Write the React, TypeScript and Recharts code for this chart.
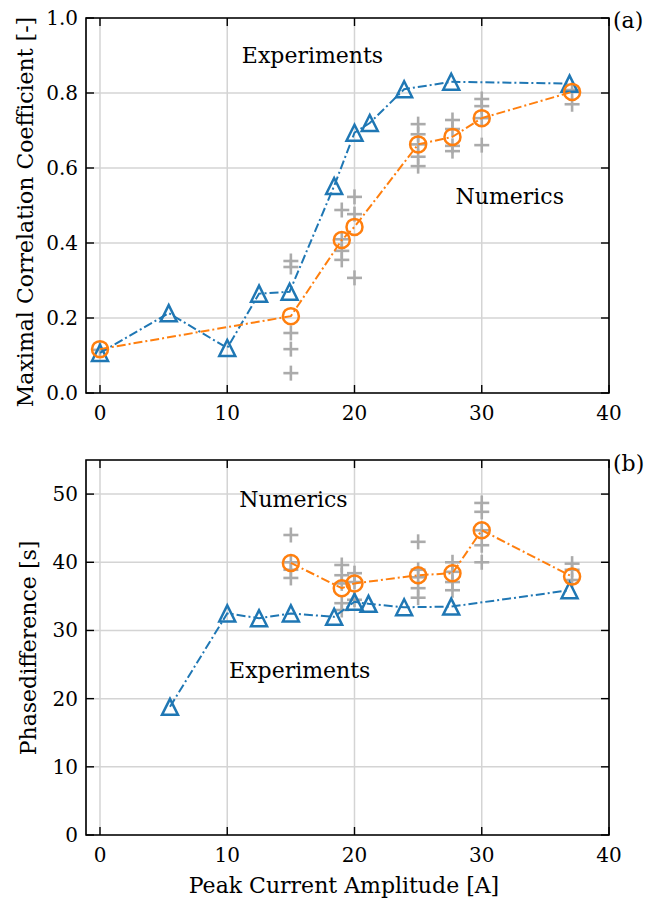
import { CartesianGrid, ReferenceArea, ReferenceDot, Scatter, ScatterChart, XAxis, YAxis } from "recharts";

// Peak current amplitude ticks [A]
const currentTicks = [0, 10, 20, 30, 40];

// (a) maximal correlation coefficient
const corrTicks = [0, 0.2, 0.4, 0.6, 0.8, 1.0];
const corrExpCurrent = [0, 5.4, 10, 12.5, 14.9, 18.4, 20, 21.2, 23.9, 27.6, 36.9];
const corrExpValue = [0.107, 0.213, 0.12, 0.265, 0.27, 0.552, 0.694, 0.72, 0.81, 0.83, 0.825];
const corrNumCurrent = [0, 15, 19, 20, 25, 27.7, 30, 37.1];
const corrNumValue = [0.117, 0.205, 0.408, 0.443, 0.663, 0.683, 0.733, 0.803];
const corrRunCurrent = [0, 15, 15, 15, 15, 15, 19, 19, 19, 19, 20, 20, 20, 25, 25, 25, 25, 25, 27.7, 27.7, 27.7, 27.7, 30, 30, 30, 30, 37.1, 37.1];
const corrRunValue = [0.115, 0.352, 0.336, 0.16, 0.117, 0.053, 0.488, 0.41, 0.379, 0.355, 0.523, 0.477, 0.307, 0.717, 0.69, 0.663, 0.63, 0.605, 0.728, 0.704, 0.659, 0.645, 0.784, 0.765, 0.733, 0.661, 0.808, 0.77];

// (b) phase difference [s]
const phaseTicks = [0, 10, 20, 30, 40, 50];
const phaseExpCurrent = [5.5, 10, 12.5, 15, 18.4, 20, 21.1, 23.9, 27.6, 36.9];
const phaseExpValue = [18.8, 32.5, 31.8, 32.5, 32.0, 34.2, 33.9, 33.4, 33.5, 35.9];
const phaseNumCurrent = [15, 19, 20, 25, 27.7, 30, 37.1];
const phaseNumValue = [39.9, 36.2, 36.9, 38.1, 38.4, 44.7, 37.9];
const phaseRunCurrent = [15, 15, 15, 15, 19, 19, 19, 19, 19, 20, 20, 20, 25, 25, 25, 25, 25, 27.7, 27.7, 27.7, 27.7, 30, 30, 30, 30, 30, 37.1, 37.1, 37.1];
const phaseRunValue = [44.0, 40.0, 38.9, 37.7, 39.6, 38.1, 36.9, 34.0, 33.0, 38.4, 37.1, 34.5, 43.0, 38.9, 37.8, 36.2, 34.8, 40.0, 38.6, 37.1, 35.9, 48.7, 47.4, 44.7, 42.5, 40.0, 39.8, 38.9, 37.4];

const BLUE = "#1f77b4";
const ORANGE = "#ff7f0e";
const GREY = "#ababab";
const FONT = '"DejaVu Serif", serif';
const DASH_DOT = "9 3 2 3";

const zip = (xs: number[], ys: number[]) => xs.map((x, i) => ({ x, y: ys[i] }));

const Triangle = (p: any) => {
  const { cx, cy } = p;
  if (cx == null || cy == null) return <g />;
  const s = 8;
  return (
    <path
      d={`M${cx},${cy - s}L${cx - s},${cy + s}L${cx + s},${cy + s}Z`}
      fill="none"
      stroke={BLUE}
      strokeWidth={2.5}
    />
  );
};

const Ring = (p: any) => {
  const { cx, cy } = p;
  if (cx == null || cy == null) return <g />;
  return <circle cx={cx} cy={cy} r={8} fill="none" stroke={ORANGE} strokeWidth={2.5} />;
};

const Plus = (p: any) => {
  const { cx, cy } = p;
  if (cx == null || cy == null) return <g />;
  const s = 7.5;
  return (
    <g stroke={GREY} strokeWidth={2.6}>
      <line x1={cx - s} x2={cx + s} y1={cy} y2={cy} />
      <line x1={cx} x2={cx} y1={cy - s} y2={cy + s} />
    </g>
  );
};

interface Note {
  text: string;
  x: number;
  y: number;
}

interface PanelProps {
  height: number;
  marginTop: number;
  xAxisHeight: number;
  yDomain: [number, number];
  yTicks: number[];
  yFormat: (v: number) => string;
  yTitle: string;
  yTitleX: number;
  yTitleY: number;
  tag: string;
  tagY: number;
  xTitle?: string;
  exp: { x: number; y: number }[];
  num: { x: number; y: number }[];
  runs: { x: number; y: number }[];
  notes: Note[];
}

const WIDTH = 648;
const LEFT = 86;
const RIGHT = 609;
const TICK = 8;

function Panel(props: PanelProps) {
  const top = props.marginTop;
  const bottom = props.height - props.xAxisHeight;

  const xTick = (t: any) => (
    <g>
      <line x1={t.x} x2={t.x} y1={bottom} y2={bottom - TICK} stroke="#000" strokeWidth={1.4} />
      <line x1={t.x} x2={t.x} y1={top} y2={top + TICK} stroke="#000" strokeWidth={1.4} />
      <text x={t.x} y={bottom + 27} textAnchor="middle" fontSize={20} fontFamily={FONT} fill="#000">
        {t.payload.value}
      </text>
    </g>
  );

  const yTick = (t: any) => (
    <g>
      <line x1={LEFT} x2={LEFT + TICK} y1={t.y} y2={t.y} stroke="#000" strokeWidth={1.4} />
      <line x1={RIGHT} x2={RIGHT - TICK} y1={t.y} y2={t.y} stroke="#000" strokeWidth={1.4} />
      <text x={LEFT - 8} y={t.y + 7} textAnchor="end" fontSize={20} fontFamily={FONT} fill="#000">
        {props.yFormat(t.payload.value)}
      </text>
    </g>
  );

  // y title plus the panel tag at the upper right
  const titles = () => (
    <g fontFamily={FONT} fill="#000" fontSize={22}>
      <text
        x={props.yTitleX}
        y={props.yTitleY}
        textAnchor="middle"
        transform={`rotate(-90, ${props.yTitleX}, ${props.yTitleY})`}
      >
        {props.yTitle}
      </text>
      <text x={613} y={props.tagY}>
        {props.tag}
      </text>
    </g>
  );

  const xTitle = () =>
    props.xTitle ? (
      <text x={344} y={props.height - 14} textAnchor="middle" fontSize={22} fontFamily={FONT} fill="#000">
        {props.xTitle}
      </text>
    ) : (
      <g />
    );

  return (
    <ScatterChart
      width={WIDTH}
      height={props.height}
      margin={{ top: props.marginTop, right: WIDTH - RIGHT, bottom: 0, left: 0 }}
    >
      <CartesianGrid stroke="#d4d4d4" strokeWidth={1.5} />
      <XAxis
        type="number"
        dataKey="x"
        domain={[-1.1, 40]}
        ticks={currentTicks}
        allowDataOverflow
        height={props.xAxisHeight}
        axisLine={false}
        tickLine={false}
        tick={xTick}
        label={xTitle}
      />
      <YAxis
        type="number"
        dataKey="y"
        domain={props.yDomain}
        ticks={props.yTicks}
        allowDataOverflow
        width={LEFT}
        axisLine={false}
        tickLine={false}
        tick={yTick}
        label={titles}
      />
      <ReferenceArea
        x1={-1.1}
        x2={40}
        y1={props.yDomain[0]}
        y2={props.yDomain[1]}
        fill="none"
        fillOpacity={0}
        stroke="#000"
        strokeWidth={1.6}
      />
      <Scatter data={props.runs} shape={Plus} fill={GREY} isAnimationActive={false} />
      <Scatter
        data={props.exp}
        shape={Triangle}
        fill={BLUE}
        line={{ stroke: BLUE, strokeWidth: 2, strokeDasharray: DASH_DOT }}
        lineType="joint"
        isAnimationActive={false}
      />
      <Scatter
        data={props.num}
        shape={Ring}
        fill={ORANGE}
        line={{ stroke: ORANGE, strokeWidth: 2, strokeDasharray: DASH_DOT }}
        lineType="joint"
        isAnimationActive={false}
      />
      {props.notes.map((n) => (
        <ReferenceDot
          key={n.text}
          x={n.x}
          y={n.y}
          r={0}
          stroke="none"
          label={{ value: n.text, position: "center", fontSize: 22, fontFamily: FONT, fill: "#000" }}
        />
      ))}
    </ScatterChart>
  );
}

export default function App() {
  return (
    <div style={{ position: "absolute", left: 0, top: 0, width: WIDTH, height: 907, background: "#fff" }}>
      <Panel
        height={428}
        marginTop={18}
        xAxisHeight={35}
        yDomain={[0, 1]}
        yTicks={corrTicks}
        yFormat={(v) => v.toFixed(1)}
        yTitle="Maximal Correlation Coefficient [-]"
        yTitleX={33}
        yTitleY={212}
        tag="(a)"
        tagY={28}
        exp={zip(corrExpCurrent, corrExpValue)}
        num={zip(corrNumCurrent, corrNumValue)}
        runs={zip(corrRunCurrent, corrRunValue)}
        notes={[
          { text: "Experiments", x: 16.7, y: 0.9 },
          { text: "Numerics", x: 32.2, y: 0.525 },
        ]}
      />
      <Panel
        height={479}
        marginTop={32}
        xAxisHeight={72}
        yDomain={[0, 55]}
        yTicks={phaseTicks}
        yFormat={(v) => String(v)}
        yTitle="Phasedifference [s]"
        yTitleX={36}
        yTitleY={220}
        tag="(b)"
        tagY={43}
        xTitle="Peak Current Amplitude [A]"
        exp={zip(phaseExpCurrent, phaseExpValue)}
        num={zip(phaseNumCurrent, phaseNumValue)}
        runs={zip(phaseRunCurrent, phaseRunValue)}
        notes={[
          { text: "Numerics", x: 15.2, y: 49.3 },
          { text: "Experiments", x: 15.7, y: 24.2 },
        ]}
      />
    </div>
  );
}
